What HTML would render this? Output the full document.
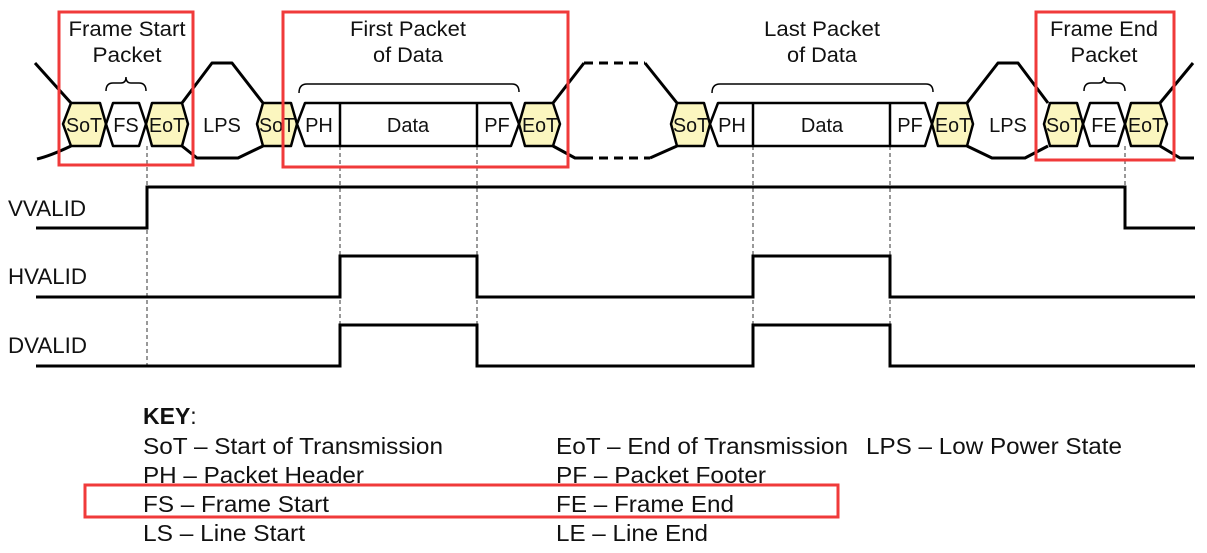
<!DOCTYPE html>
<html><head><meta charset="utf-8"><style>
html,body{margin:0;padding:0;background:#fff;}
svg{display:block;}
text{font-family:"Liberation Sans",Arial,sans-serif;fill:#111;}
</style></head><body>
<svg width="1207" height="553" viewBox="0 0 1207 553" xmlns="http://www.w3.org/2000/svg">
<g stroke="#333" stroke-width="1" stroke-dasharray="4,3" fill="none">
<line x1="147" y1="146" x2="147" y2="368"/>
<line x1="340" y1="146" x2="340" y2="368"/>
<line x1="477" y1="146" x2="477" y2="368"/>
<line x1="753" y1="146" x2="753" y2="368"/>
<line x1="890" y1="146" x2="890" y2="368"/>
<line x1="1125" y1="146" x2="1125" y2="228"/>
</g>
<g stroke="#000" stroke-width="3" fill="none" stroke-linejoin="round">
<path d="M35,63 L71,103"/>
<path d="M37,159 Q50,156 71,146"/>
<path d="M182,103 L212,63 L232,63 L263,103"/>
<path d="M182,146 L197,158 L238,158 L263,146"/>
<path d="M553,103 L584,63"/><path d="M645,63 L677,103"/>
<path d="M584,63 L645,63" stroke-dasharray="9,6"/>
<path d="M553,146 L575,158 L584,158"/><path d="M650,158 L677,146"/>
<path d="M584,158 L650,158" stroke-dasharray="9,6"/>
<path d="M967,103 L998,63 L1018,63 L1048,103"/>
<path d="M967,146 L992,158 L1025,158 L1048,146"/>
<path d="M1160,103 L1193,63"/>
<path d="M1160,146 L1180,158 L1194,158"/>
</g>
<g stroke="#000" stroke-width="2.5" stroke-linejoin="round">
<polygon fill="#fbf6bf" points="63,124 71,103 100,103 106,124 100,146 71,146"/>
<polygon fill="#fff" points="106,124 113,103 139,103 146,124 139,146 113,146"/>
<polygon fill="#fbf6bf" points="146,124 152,103 182,103 188,124 182,146 152,146"/>
<polygon fill="#fbf6bf" points="257,124 263,103 291,103 297,124 291,146 263,146"/>
<polygon fill="#fff" points="297,124 305,103 511,103 519,124 511,146 305,146"/>
<polygon fill="#fbf6bf" points="519,124 525,103 553,103 560,124 553,146 525,146"/>
<polygon fill="#fbf6bf" points="671,124 677,103 704,103 710,124 704,146 677,146"/>
<polygon fill="#fff" points="710,124 718,103 925,103 932,124 925,146 718,146"/>
<polygon fill="#fbf6bf" points="932,124 938,103 967,103 973,124 967,146 938,146"/>
<polygon fill="#fbf6bf" points="1044,124 1050,103 1077,103 1083,124 1077,146 1050,146"/>
<polygon fill="#fff" points="1083,124 1090,103 1118,103 1125,124 1118,146 1090,146"/>
<polygon fill="#fbf6bf" points="1125,124 1131,103 1160,103 1167,124 1160,146 1131,146"/>
<line x1="340" y1="103" x2="340" y2="146"/><line x1="477" y1="103" x2="477" y2="146"/>
<line x1="753" y1="103" x2="753" y2="146"/><line x1="890" y1="103" x2="890" y2="146"/>
</g>
<g font-size="20" text-anchor="middle" lengthAdjust="spacingAndGlyphs">
<text x="84" y="132" textLength="36" lengthAdjust="spacingAndGlyphs">SoT</text>
<text x="126" y="132">FS</text>
<text x="167" y="132" textLength="36" lengthAdjust="spacingAndGlyphs">EoT</text>
<text x="222" y="132">LPS</text>
<text x="277" y="132" textLength="36" lengthAdjust="spacingAndGlyphs">SoT</text>
<text x="319" y="132">PH</text>
<text x="408" y="132">Data</text><text x="497" y="132">PF</text>
<text x="540" y="132" textLength="36" lengthAdjust="spacingAndGlyphs">EoT</text>
<text x="691" y="132" textLength="36" lengthAdjust="spacingAndGlyphs">SoT</text>
<text x="732" y="132">PH</text><text x="822" y="132">Data</text>
<text x="910" y="132">PF</text>
<text x="953" y="132" textLength="36" lengthAdjust="spacingAndGlyphs">EoT</text>
<text x="1008" y="132">LPS</text>
<text x="1064" y="132" textLength="36" lengthAdjust="spacingAndGlyphs">SoT</text>
<text x="1104" y="132">FE</text>
<text x="1146" y="132" textLength="36" lengthAdjust="spacingAndGlyphs">EoT</text>
</g>
<g stroke="#000" stroke-width="1.5" fill="none">
<path d="M106,91 Q106,83 113,83 L121,83 Q126,83 126,77 Q126,83 131,83 L139,83 Q146,83 146,91"/>
<path d="M299,93 Q299,84 307,84 L512,84 Q519,84 519,92"/>
<path d="M712,93 Q712,84 720,84 L926,84 Q933,84 933,92"/>
<path d="M1084,91 Q1084,83 1091,83 L1099,83 Q1104,83 1104,77 Q1104,83 1109,83 L1118,83 Q1125,83 1125,91"/>
</g>
<g font-size="21" text-anchor="middle">
<text x="127" y="36" textLength="117" lengthAdjust="spacingAndGlyphs">Frame Start</text>
<text x="127" y="62" textLength="69" lengthAdjust="spacingAndGlyphs">Packet</text>
<text x="408" y="36" textLength="116" lengthAdjust="spacingAndGlyphs">First Packet</text>
<text x="408" y="62" textLength="70" lengthAdjust="spacingAndGlyphs">of Data</text>
<text x="822" y="36" textLength="116" lengthAdjust="spacingAndGlyphs">Last Packet</text>
<text x="822" y="62" textLength="70" lengthAdjust="spacingAndGlyphs">of Data</text>
<text x="1104" y="36" textLength="108" lengthAdjust="spacingAndGlyphs">Frame End</text>
<text x="1104" y="62" textLength="67" lengthAdjust="spacingAndGlyphs">Packet</text>
</g>
<g stroke="#000" stroke-width="3" fill="none">
<path d="M36,228 L147,228 L147,187 L1125,187 L1125,228 L1195,228"/>
<path d="M36,297 L340,297 L340,256 L477,256 L477,297 L753,297 L753,256 L890,256 L890,297 L1195,297"/>
<path d="M36,366 L340,366 L340,325 L477,325 L477,366 L753,366 L753,325 L890,325 L890,366 L1195,366"/>
</g>
<g font-size="22">
<text x="8" y="216" textLength="78" lengthAdjust="spacingAndGlyphs">VVALID</text>
<text x="8" y="284" textLength="79" lengthAdjust="spacingAndGlyphs">HVALID</text>
<text x="8" y="353" textLength="79" lengthAdjust="spacingAndGlyphs">DVALID</text>
</g>
<g font-size="23">
<text x="143" y="424" font-weight="bold">KEY<tspan font-weight="normal">:</tspan></text>
<text x="143" y="454" textLength="300" lengthAdjust="spacingAndGlyphs">SoT – Start of Transmission</text>
<text x="143" y="483" textLength="221" lengthAdjust="spacingAndGlyphs">PH – Packet Header</text>
<text x="143" y="512" textLength="186" lengthAdjust="spacingAndGlyphs">FS – Frame Start</text>
<text x="143" y="541" textLength="162" lengthAdjust="spacingAndGlyphs">LS – Line Start</text>
<text x="556" y="454" textLength="292" lengthAdjust="spacingAndGlyphs">EoT – End of Transmission</text>
<text x="556" y="483" textLength="210" lengthAdjust="spacingAndGlyphs">PF – Packet Footer</text>
<text x="556" y="512" textLength="178" lengthAdjust="spacingAndGlyphs">FE – Frame End</text>
<text x="556" y="541" textLength="152" lengthAdjust="spacingAndGlyphs">LE – Line End</text>
<text x="866" y="454" textLength="256" lengthAdjust="spacingAndGlyphs">LPS – Low Power State</text>
</g>
<g stroke="#f03a3a" stroke-width="3" fill="none">
<rect x="59" y="12" width="134" height="153"/>
<rect x="283" y="12" width="285" height="155"/>
<rect x="1036" y="12" width="138" height="148"/>
<rect x="85" y="485" width="753" height="32"/>
</g>
</svg>
</body></html>
